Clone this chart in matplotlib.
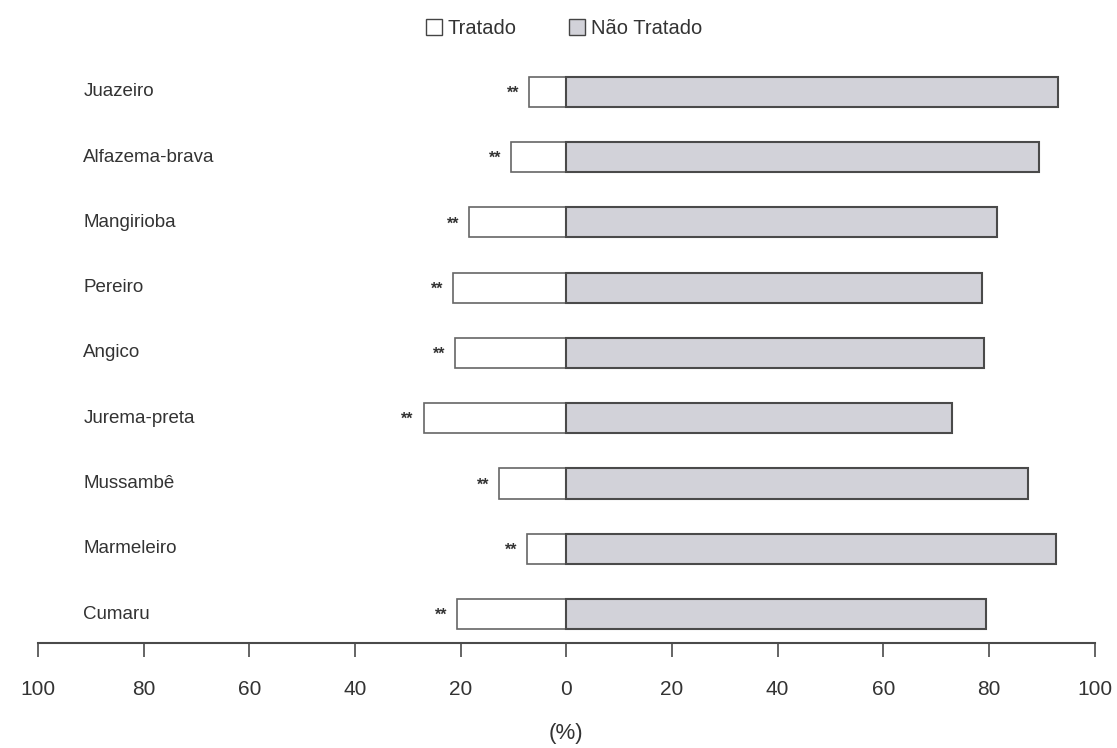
import numpy as np
import matplotlib
matplotlib.use('Agg')
import matplotlib.pyplot as plt
from matplotlib.patches import Patch

plt.rcParams['font.family'] = ['Liberation Sans', 'DejaVu Sans']

# ── data ──────────────────────────────────────────────────────────────────────
species = ["Juazeiro", "Alfazema-brava", "Mangirioba", "Pereiro", "Angico",
           "Jurema-preta", "Mussambê", "Marmeleiro", "Cumaru"]
tratado     = [7.0, 10.5, 18.4, 21.4, 21.0, 27.0, 12.7, 7.4, 20.6]
nao_tratado = [93.0, 89.5, 81.6, 78.6, 79.0, 73.0, 87.3, 92.6, 79.4]
signif      = ["**"] * 9
xticks      = [-100, -80, -60, -40, -20, 0, 20, 40, 60, 80, 100]

GRAY_FILL = '#d2d2d9'
EDGE      = '#4a4a4a'
TEXT      = '#333333'

fig = plt.figure(figsize=(11.17, 7.48), dpi=100)
ax = fig.add_axes([0.034, 0.1404, 0.946, 0.789])

y = np.arange(len(species))[::-1]
h = 0.46

ax.barh(y, [-t for t in tratado], h, color='white', edgecolor='#666666', linewidth=1.2)
ax.barh(y, nao_tratado, h, color=GRAY_FILL, edgecolor=EDGE, linewidth=1.5)

for yi, t, s in zip(y, tratado, signif):
    ax.annotate(s, xy=(-t, yi), xytext=(-7, -1), textcoords='offset points',
                ha='right', va='center', fontsize=11.5, color=TEXT, fontweight='bold')

# species labels on the left
for yi, name in zip(y, species):
    ax.text(0.043, yi, name, transform=ax.get_yaxis_transform(),
            ha='left', va='center', fontsize=13.5, color=TEXT)

ax.set_xlim(-100, 100)
ax.set_ylim(-0.444, 8.6)
ax.set_xticks(xticks)
ax.set_xticklabels([str(abs(v)) for v in xticks], fontsize=15, color=TEXT)
ax.tick_params(axis='x', direction='out', length=10, width=1.2, colors=EDGE,
               labelcolor=TEXT, pad=17)
ax.set_yticks([])
for side in ['left', 'right', 'top']:
    ax.spines[side].set_visible(False)
ax.spines['bottom'].set_color(EDGE)
ax.spines['bottom'].set_linewidth(1.5)

ax.set_xlabel("(%)", fontsize=16, color=TEXT, labelpad=17)

handles = [Patch(facecolor='white', edgecolor='#444444', linewidth=1.0),
           Patch(facecolor=GRAY_FILL, edgecolor='#444444', linewidth=1.0)]
fig.legend(handles, ["Tratado", "Não Tratado"], loc='center', ncol=2,
           bbox_to_anchor=(0.505, 0.962), frameon=False, fontsize=14.5,
           handlelength=0.8, handleheight=0.8, handletextpad=0.3,
           columnspacing=2.6, labelcolor=TEXT)

fig.savefig("out.png", dpi=100)
